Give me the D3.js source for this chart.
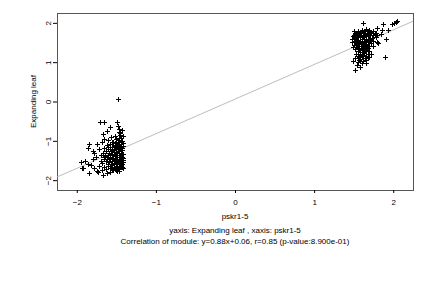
<!DOCTYPE html>
<html>
<head>
<meta charset="utf-8">
<script src="https://cdn.jsdelivr.net/npm/d3@7"></script>
<style>
  body { margin: 0; background: #fff; }
  text { font-family: "Liberation Sans", Arial, sans-serif; fill: #000; }
</style>
</head>
<body>
<div id="chart"></div>
<script>
// left cluster (pskr1-5 vs Expanding leaf)
const leftX = [-1.71,-1.65,-1.49,-1.58,-1.48,-1.46,-1.62,-1.67,-1.47,-1.45,-1.52,-1.44,-1.48,
  -1.84,-1.86,-1.75,-1.80,-1.78,-1.72,-1.68,-1.65,-1.60,-1.57,-1.55,
  -1.95,-1.92,-1.94,-1.84,-1.75,-1.67,-1.62,-1.49,-1.90,-1.86,-1.82,-1.78,-1.72,-1.80,-1.76,-1.70,-1.73,-1.58,-1.55,-1.52,-1.46,
  -1.50,-1.46,-1.43,-1.48,-1.52,-1.44,-1.58,-1.62,-1.47,-1.42,
  -1.66,-1.60,-1.55,-1.50,-1.45,-1.43,-1.48,-1.53,-1.57,-1.63,-1.67,-1.59,-1.51,-1.44,-1.42,
  -1.69,-1.64,-1.60,-1.56,-1.52,-1.47,-1.43,-1.49,-1.54,-1.58,-1.62,-1.66,-1.45,-1.42,-1.50,-1.55,
  -1.63,-1.68,-1.59,-1.53,-1.47,-1.43,-1.49,-1.56,-1.61,-1.65,-1.44,-1.51,-1.47,-1.57,-1.63,-1.68,
  -1.42,-1.45,-1.43,-1.46,-1.44,-1.42,-1.46,-1.42,-1.44,-1.42,
  -1.43,-1.45,-1.42,-1.47,
  -1.54,-1.50,-1.46,-1.52,-1.48,-1.44,-1.56,-1.50,-1.46,-1.53,-1.49,-1.45,-1.55,-1.51,-1.47,-1.43,
  -1.58,-1.54,-1.50,-1.46,-1.52,-1.48,-1.44,-1.57,-1.53,-1.49,-1.45,-1.60,-1.55,-1.51,-1.47,-1.43,
  -1.54,-1.50,-1.46,-1.58,-1.52,-1.48,-1.61,-1.65];
const leftY = [-0.51,-0.51,-0.51,-0.64,-0.62,-0.69,-0.76,-0.82,-0.78,-0.84,-0.88,-0.92,0.07,
  -1.07,-1.17,-1.09,-1.25,-1.30,-1.21,-1.03,-0.95,-0.98,-0.90,-1.02,
  -1.55,-1.70,-1.68,-1.83,-1.76,-1.86,-1.83,-1.76,-1.52,-1.58,-1.62,-1.70,-1.64,-1.45,-1.40,-1.50,-1.78,-1.80,-1.72,-1.70,-1.72,
  -0.95,-0.97,-1.00,-1.03,-1.06,-1.08,-1.08,-1.10,-1.12,-1.14,
  -1.18,-1.16,-1.15,-1.18,-1.20,-1.24,-1.26,-1.23,-1.25,-1.27,-1.30,-1.30,-1.30,-1.30,-1.34,
  -1.36,-1.38,-1.35,-1.36,-1.38,-1.36,-1.40,-1.42,-1.43,-1.44,-1.45,-1.47,-1.46,-1.48,-1.48,-1.50,
  -1.52,-1.56,-1.55,-1.56,-1.54,-1.58,-1.60,-1.62,-1.64,-1.66,-1.64,-1.66,-1.68,-1.68,-1.72,-1.74,
  -1.05,-1.12,-1.18,-1.32,-1.38,-1.44,-1.52,-1.55,-1.62,-1.68,
  -0.72,-0.80,-0.88,-0.92,
  -1.02,-1.05,-1.09,-1.12,-1.15,-1.17,-1.20,-1.22,-1.25,-1.28,-1.32,-1.35,-1.33,-1.37,-1.40,-1.43,
  -1.40,-1.46,-1.45,-1.49,-1.52,-1.55,-1.52,-1.58,-1.60,-1.63,-1.60,-1.60,-1.66,-1.70,-1.72,-1.66,
  -1.75,-1.73,-1.76,-1.20,-1.10,-0.98,-1.22,-1.42];

// right cluster
const rightX = [1.62,1.87,1.86,1.94,2.03,2.01,1.99,2.05,1.91,1.89,1.81,1.85,1.80,1.78,
  1.52,1.58,1.54,1.61,1.49,1.56,1.65,1.68,1.52,1.60,
  1.50,1.55,1.60,1.65,1.70,1.75,1.52,1.57,1.62,1.67,1.72,1.77,1.49,1.54,1.59,1.64,1.69,1.74,
  1.48,1.53,1.58,1.63,1.68,1.73,1.78,1.50,1.55,1.60,1.65,1.70,1.75,1.48,1.53,1.58,1.63,1.68,1.72,
  1.50,1.55,1.60,1.65,1.70,1.49,1.54,1.59,1.64,1.68,1.52,1.57,1.62,1.75,1.79,
  1.55,1.60,1.65,1.70,1.53,1.58,1.63,1.68,1.72,1.56,1.62,1.66,1.70,1.58,1.64,1.62,1.57,1.66,
  1.52,1.56,1.60,1.64,1.68,1.72,1.51,1.55,1.59,1.63,1.67,1.71,1.50,1.54,1.58,1.62,1.66,1.70,
  1.52,1.56,1.60,1.64,1.68,1.53,1.57,1.61,1.65,1.55,1.59,1.63,1.67,1.56,1.60,1.64,1.58,1.62,
  1.60,1.57,1.74,1.80];
const rightY = [1.99,1.96,1.83,1.83,2.03,1.99,1.96,2.05,1.58,1.12,1.48,1.72,1.88,1.75,
  0.81,0.87,0.92,0.97,1.04,1.00,1.05,1.12,1.10,1.15,
  1.78,1.80,1.82,1.84,1.82,1.80,1.72,1.74,1.76,1.78,1.76,1.72,1.66,1.68,1.70,1.70,1.72,1.68,
  1.60,1.62,1.64,1.64,1.66,1.62,1.64,1.55,1.57,1.58,1.58,1.56,1.55,1.50,1.50,1.52,1.52,1.50,1.48,
  1.44,1.45,1.46,1.44,1.42,1.38,1.38,1.40,1.38,1.36,1.33,1.34,1.32,1.40,1.52,
  1.28,1.27,1.30,1.28,1.22,1.22,1.24,1.22,1.20,1.16,1.18,1.15,1.12,1.08,1.10,1.03,1.05,0.98,
  1.75,1.77,1.79,1.80,1.79,1.74,1.69,1.71,1.73,1.73,1.74,1.70,1.63,1.65,1.67,1.67,1.69,1.60,
  1.53,1.54,1.55,1.55,1.53,1.47,1.48,1.49,1.47,1.41,1.42,1.43,1.40,1.35,1.36,1.34,1.25,1.25,
  1.19,1.12,1.78,1.70];

const slope = 0.88, intercept = 0.06;
const xTicks = [-2, -1, 0, 1, 2];
const yTicks = [-2, -1, 0, 1, 2];
const xLabel = 'pskr1-5';
const yLabel = 'Expanding leaf';
const subtitle = 'yaxis: Expanding leaf , xaxis: pskr1-5';
const corrText = 'Correlation of module: y=0.88x+0.06, r=0.85 (p-value:8.900e-01)';

const width = 432, height = 288;
const margin = { top: 13, right: 19, bottom: 98, left: 57 };
const graphWidth = width - margin.left - margin.right;
const graphHeight = height - margin.top - margin.bottom;

const svg = d3.select('#chart')
  .append('svg')
  .attr('width', width)
  .attr('height', height);

const graph = svg.append('g')
  .attr('transform', `translate(${margin.left}, ${margin.top})`);

//Scales
const x = d3.scaleLinear().domain([-2.25, 2.25]).range([0, graphWidth]);
const y = d3.scaleLinear().domain([-2.25, 2.25]).range([graphHeight, 0]);

// box
graph.append('rect')
  .attr('width', graphWidth)
  .attr('height', graphHeight)
  .attr('fill', 'none')
  .attr('stroke', '#555')
  .attr('shape-rendering', 'crispEdges');

//axes
const xAxisGroup = graph.append('g')
  .attr('transform', `translate(0, ${graphHeight})`)
  .call(d3.axisBottom(x).tickValues(xTicks).tickSize(3).tickPadding(6).tickFormat(d3.format('d')));

const yAxisGroup = graph.append('g')
  .call(d3.axisLeft(y).tickValues(yTicks).tickSize(4).tickFormat(d3.format('d')));

[xAxisGroup, yAxisGroup].forEach(g => {
  g.select('.domain').remove();
  g.selectAll('line').attr('stroke', '#000');
  g.selectAll('text').style('font-size', '8px').attr('font-family', null).attr('fill', '#000');
});

yAxisGroup.selectAll('text')
  .attr('x', null).attr('dy', null)
  .attr('text-anchor', 'middle')
  .attr('transform', 'translate(-6, 0) rotate(-90)');

// regression line
graph.append('line')
  .attr('x1', x(-2.25)).attr('y1', y(slope * -2.25 + intercept))
  .attr('x2', x(2.25)).attr('y2', y(slope * 2.25 + intercept))
  .attr('stroke', '#bdbdbd')
  .attr('stroke-width', 1);

// points
const points = leftX.map((d, i) => [d, leftY[i]])
  .concat(rightX.map((d, i) => [d, rightY[i]]));

graph.selectAll('path.pt')
  .data(points)
  .enter()
  .append('path')
  .attr('class', 'pt')
  .attr('d', d => {
    const cx = Math.round(x(d[0])) + 0.5, cy = Math.round(y(d[1])) + 0.5;
    return `M${cx - 2.5},${cy}H${cx + 2.5}M${cx},${cy - 2.5}V${cy + 2.5}`;
  })
  .attr('stroke', '#000')
  .attr('stroke-width', 1)
  .attr('fill', 'none');

// labels
svg.append('text')
  .attr('x', margin.left + graphWidth / 2)
  .attr('y', 219)
  .attr('text-anchor', 'middle')
  .style('font-size', '8px')
  .text(xLabel);

svg.append('text')
  .attr('transform', `translate(36, ${margin.top + graphHeight / 2}) rotate(-90)`)
  .attr('text-anchor', 'middle')
  .style('font-size', '8px')
  .text(yLabel);

svg.append('text')
  .attr('x', margin.left + graphWidth / 2)
  .attr('y', 233)
  .attr('text-anchor', 'middle')
  .style('font-size', '8px')
  .text(subtitle);

svg.append('text')
  .attr('x', margin.left + graphWidth / 2)
  .attr('y', 244)
  .attr('text-anchor', 'middle')
  .style('font-size', '8px')
  .text(corrText);
</script>
</body>
</html>
